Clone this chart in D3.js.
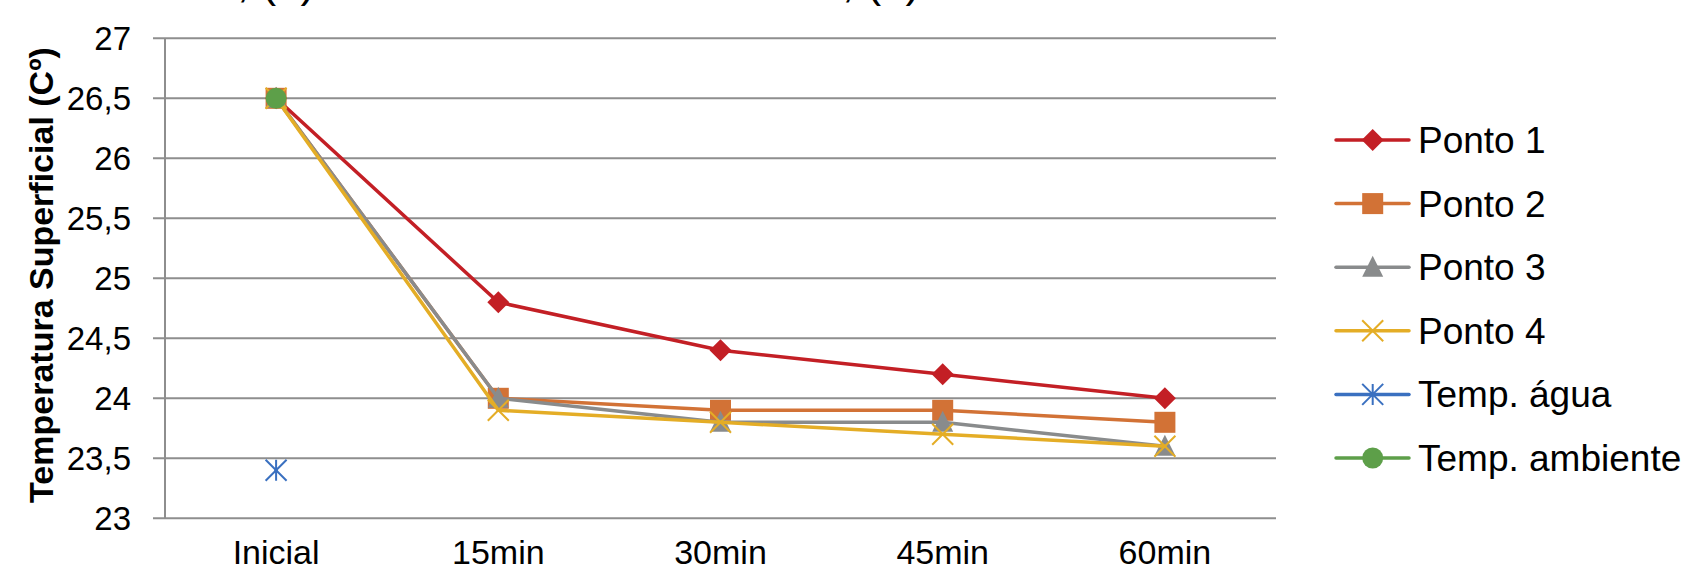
<!DOCTYPE html>
<html>
<head>
<meta charset="utf-8">
<script src="https://cdn.jsdelivr.net/npm/d3@7"></script>
<style>
html,body{margin:0;padding:0;background:#fff;}
svg{display:block;font-family:"Liberation Sans",Arial,sans-serif;}
</style>
</head>
<body>
<svg id="chart" width="1686" height="568"></svg>
<script>
const categories = ["Inicial", "15min", "30min", "45min", "60min"];
const ponto1 = [26.5, 24.8, 24.4, 24.2, 24.0];
const ponto2 = [26.5, 24.0, 23.9, 23.9, 23.8];
const ponto3 = [26.5, 24.0, 23.8, 23.8, 23.6];
const ponto4 = [26.5, 23.9, 23.8, 23.7, 23.6];
const tempAgua = [23.4, null, null, null, null];
const tempAmbiente = [26.5, null, null, null, null];
const seriesNames = ["Ponto 1", "Ponto 2", "Ponto 3", "Ponto 4", "Temp. água", "Temp. ambiente"];
const yTicks = [23, 23.5, 24, 24.5, 25, 25.5, 26, 26.5, 27];
const yTitle = "Temperatura Superficial (Cº)";

const colors = ["#C31F25", "#D27236", "#898B8C", "#E4AD26", "#3A70C0", "#5D9F49"];
const markers = ["diamond", "square", "triangle", "x", "star", "circle"];
const seriesValues = [ponto1, ponto2, ponto3, ponto4, tempAgua, tempAmbiente];

const svg = d3.select("#chart");
const plotLeft = 165, plotRight = 1276, plotTop = 38.3, plotBottom = 518.3;

const x = d3.scalePoint().domain(categories).range([plotLeft, plotRight]).padding(0.5);
const y = d3.scaleLinear().domain([23, 27]).range([plotBottom, plotTop]);
const fmt = v => String(v).replace(".", ",");

// gridlines
svg.append("g").selectAll("line").data(yTicks).join("line")
  .attr("x1", plotLeft - 12).attr("x2", plotRight)
  .attr("y1", d => y(d)).attr("y2", d => y(d))
  .attr("stroke", "#8E8E8E").attr("stroke-width", 2);
// vertical axis line
svg.append("line").attr("x1", plotLeft).attr("x2", plotLeft).attr("y1", plotTop).attr("y2", plotBottom)
  .attr("stroke", "#8E8E8E").attr("stroke-width", 2);

// y tick labels
svg.append("g").selectAll("text").data(yTicks).join("text")
  .attr("x", 131).attr("y", d => y(d)).attr("dy", "0.35em")
  .attr("text-anchor", "end").attr("font-size", 33).attr("fill", "#000")
  .text(fmt);

// x labels
svg.append("g").selectAll("text").data(categories).join("text")
  .attr("x", d => x(d)).attr("y", 564)
  .attr("text-anchor", "middle").attr("font-size", 34).attr("fill", "#000")
  .text(d => d);

// y title
svg.append("text")
  .attr("transform", "translate(53,275) rotate(-90)")
  .attr("text-anchor", "middle").attr("font-size", 34).attr("font-weight", "bold")
  .attr("fill", "#000").text(yTitle);

// cut-off fragments at top
svg.append("text").attr("x", 237).attr("y", -3).attr("font-size", 44).attr("fill", "#000").text(", (a)");
svg.append("text").attr("x", 842).attr("y", -3).attr("font-size", 44).attr("fill", "#000").text(", (b)");

function drawMarker(g, type, cx, cy, color) {
  const s = 10.5;
  if (type === "diamond") {
    g.append("path").attr("d", `M${cx},${cy - s - 0.5}L${cx + s + 0.5},${cy}L${cx},${cy + s + 0.5}L${cx - s - 0.5},${cy}Z`).attr("fill", color);
  } else if (type === "square") {
    g.append("rect").attr("x", cx - s).attr("y", cy - s).attr("width", 2 * s).attr("height", 2 * s).attr("fill", color);
  } else if (type === "triangle") {
    g.append("path").attr("d", `M${cx},${cy - s - 1}L${cx + s},${cy + s - 1}L${cx - s},${cy + s - 1}Z`).attr("fill", color);
  } else if (type === "x") {
    g.append("path").attr("d", `M${cx - s},${cy - s}L${cx + s},${cy + s}M${cx + s},${cy - s}L${cx - s},${cy + s}`)
      .attr("stroke", color).attr("stroke-width", 2).attr("fill", "none");
  } else if (type === "star") {
    g.append("path").attr("d", `M${cx},${cy - s}L${cx},${cy + s}M${cx - s},${cy - s}L${cx + s},${cy + s}M${cx + s},${cy - s}L${cx - s},${cy + s}`)
      .attr("stroke", color).attr("stroke-width", 2).attr("fill", "none");
  } else if (type === "circle") {
    g.append("circle").attr("cx", cx).attr("cy", cy).attr("r", s).attr("fill", color);
  }
}

const line = d3.line().defined(d => d.v != null).x(d => x(d.c)).y(d => y(d.v));

seriesValues.forEach((vals, i) => {
  const g = svg.append("g");
  const pts = categories.map((c, j) => ({ c, v: vals[j] }));
  g.append("path").datum(pts).attr("d", line)
    .attr("fill", "none").attr("stroke", colors[i]).attr("stroke-width", 3.5)
    .attr("stroke-linejoin", "round").attr("stroke-linecap", "round");
  pts.filter(p => p.v != null).forEach(p => drawMarker(g, markers[i], x(p.c), y(p.v), colors[i]));
});

// legend
const legY0 = 140, legStep = 63.6;
seriesNames.forEach((name, i) => {
  const g = svg.append("g");
  const cy = legY0 + i * legStep;
  g.append("line").attr("x1", 1336).attr("x2", 1409).attr("y1", cy).attr("y2", cy)
    .attr("stroke", colors[i]).attr("stroke-width", 3.5).attr("stroke-linecap", "round");
  drawMarker(g, markers[i], 1372.7, cy, colors[i]);
  g.append("text").attr("x", 1418).attr("y", cy).attr("dy", "0.35em")
    .attr("font-size", 37).attr("fill", "#000").text(name);
});
</script>
</body>
</html>
